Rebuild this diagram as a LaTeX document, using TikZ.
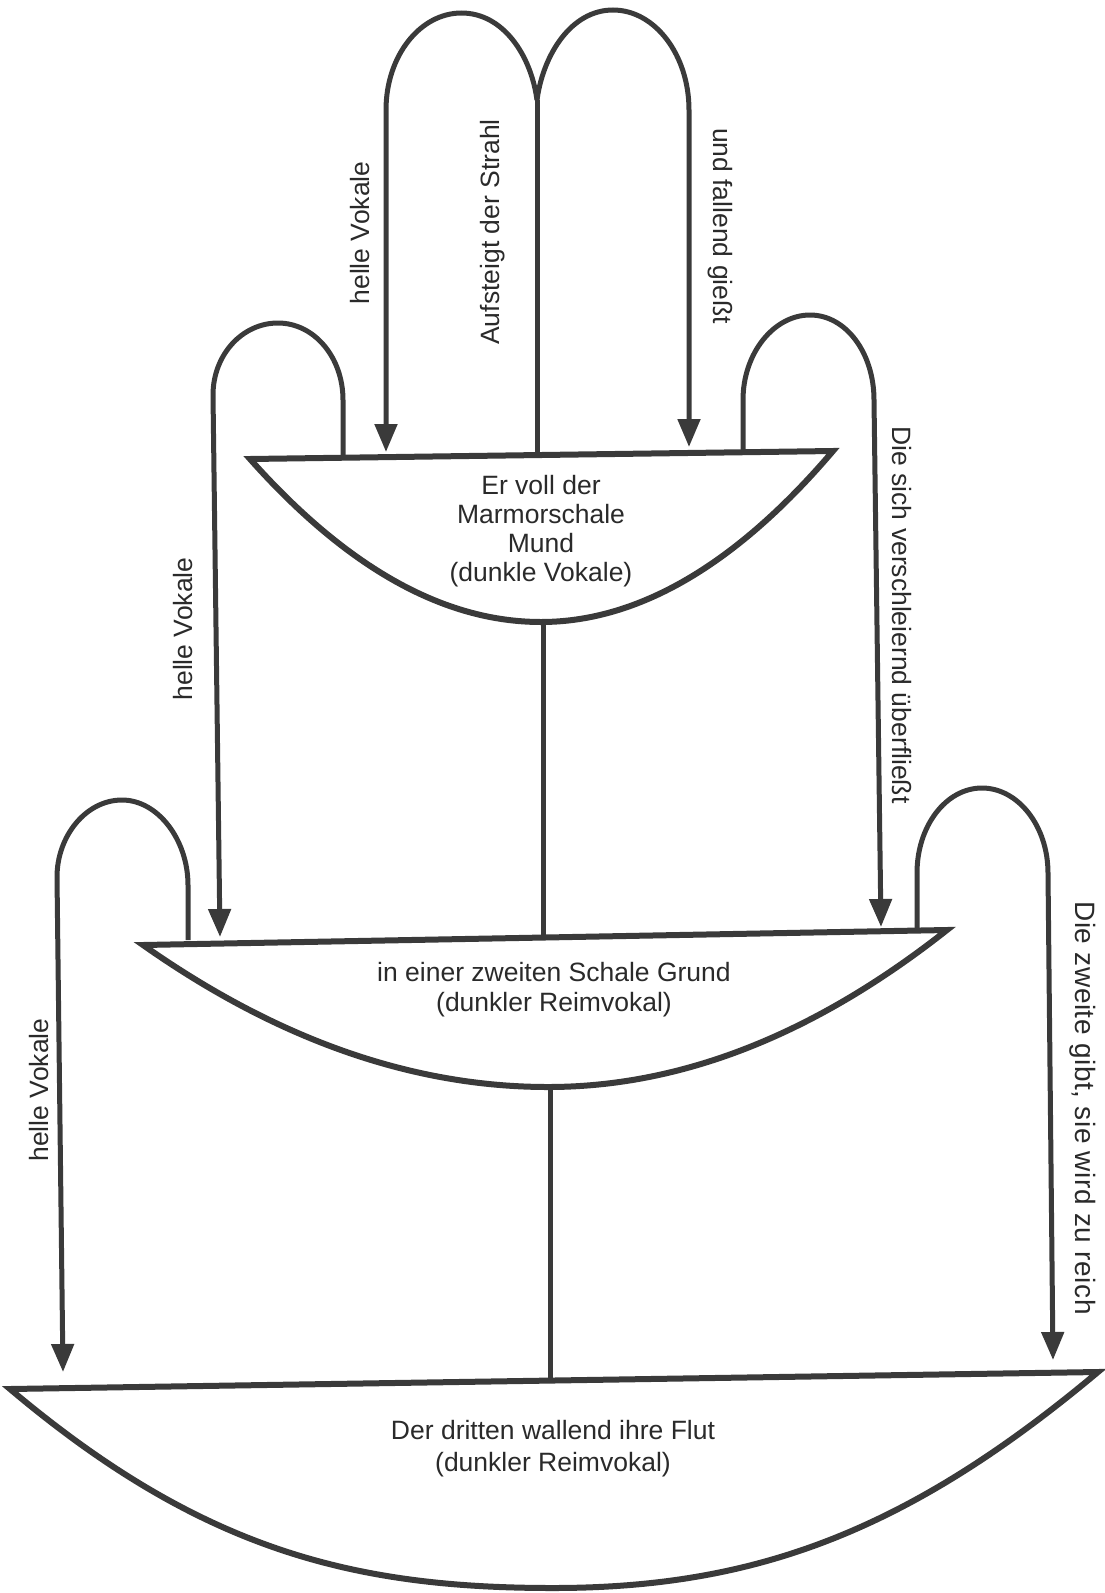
\documentclass[tikz,border=0pt]{standalone}
\usepackage{fontspec}
\setmainfont{Liberation Sans}
\usetikzlibrary{arrows.meta}
\definecolor{ink}{HTML}{3A3A3A}
\definecolor{txt}{HTML}{2A2A2A}
\begin{document}
\begin{tikzpicture}[x=1pt,y=-1pt,
  fing/.style={draw=ink,line width=5pt},
  arr/.style={fing,-{Triangle[width=22pt,length=28pt]}},
  bowl/.style={draw=ink,line width=6pt,line join=miter,fill=white},
  lbl/.style={text=txt,font=\fontsize{26.5}{30}\selectfont,inner sep=0pt},
  btxt/.style={lbl,align=center}]
\useasboundingbox (0,0) rectangle (1104,1593);
% key points
\coordinate (cusp) at (537,100);
\coordinate (aL) at (386,452);
\coordinate (aR) at (689,447);
\coordinate (m1) at (537,456);
\coordinate (cR) at (343,458);
\coordinate (cA) at (220,937);
\coordinate (dL) at (743,452);
\coordinate (dA) at (881,927);
\coordinate (eR) at (188,940);
\coordinate (eA) at (63,1372);
\coordinate (fL) at (917,931);
\coordinate (fA) at (1053,1360);
\coordinate (s1a) at (543,618);
\coordinate (s1b) at (543,938);
\coordinate (s2a) at (550,1083);
\coordinate (s2b) at (550,1381);
% top fingers
\draw[fing] (m1) -- (cusp);
\draw[arr] (cusp) .. controls (531,55) and (503,13) .. (461.5,13)
  .. controls (420,13) and (386,56) .. (386,110) -- (aL);
\draw[arr] (cusp) .. controls (543,55) and (571,10) .. (613,10)
  .. controls (655,10) and (689,55) .. (689,110) -- (aR);
% side fingers of bowl 1
\draw[arr] (cR) -- (343,400) .. controls (343,357) and (314,323) .. (278,323)
  .. controls (242,323) and (213,355) .. (213,395) -- (cA);
\draw[arr] (dL) -- (743,400) .. controls (743,353) and (774,315) .. (810,315)
  .. controls (846,315) and (874,353) .. (874,400) -- (dA);
% side fingers of bowl 2
\draw[arr] (eR) -- (188,885) .. controls (188,840) and (158,800) .. (122,800)
  .. controls (86,800) and (57,836) .. (57,877) -- (eA);
\draw[arr] (fL) -- (917,873) .. controls (917,826) and (946,788) .. (982,788)
  .. controls (1018,788) and (1048,826) .. (1048,873) -- (fA);
% stems
\draw[fing] (s1a) -- (s1b);
\draw[fing] (s2a) -- (s2b);
% bowls
\draw[bowl] (250,459) -- (833,451) .. controls (736,565) and (638,622) .. (541,622)
  .. controls (444,622) and (347,568) .. (250,459) -- cycle;
\draw[bowl] (143,945) -- (947,930) .. controls (814,1035) and (681,1087) .. (548,1087)
  .. controls (413,1087) and (278,1040) .. (143,945) -- cycle;
\draw[bowl] (10,1389) -- (1098,1372) .. controls (906,1533) and (753,1588) .. (553,1588)
  .. controls (353,1588) and (201,1550) .. (10,1389) -- cycle;
% bowl texts
\node[btxt,font=\fontsize{26.5}{29}\selectfont] (t1) at (541,531) {Er voll der\\Marmorschale\\Mund\\(dunkle Vokale)};
\node[btxt] (t2) at (554,990) {in einer zweiten Schale Grund\\(dunkler Reimvokal)};
\node[btxt,font=\fontsize{26.5}{32}\selectfont] (t3) at (553,1449) {Der dritten wallend ihre Flut\\(dunkler Reimvokal)};
% rotated labels
\node[lbl,rotate=90] (l1) at (360,233) {helle Vokale};
\node[lbl,rotate=90] (l2) at (493,232) {Aufsteigt der Strahl};
\node[lbl,rotate=-90] (l3) at (720,226) {und fallend gießt};
\node[lbl,rotate=90] (l4) at (183,629) {helle Vokale};
\node[lbl,rotate=-90] (l5) at (902,615) {Die sich verschleiernd überfließt};
\node[lbl,rotate=90] (l6) at (39,1090) {helle Vokale};
\node[lbl,rotate=-90,font=\fontsize{28}{30}\selectfont\addfontfeature{LetterSpace=2}] (l7) at (1083,1108) {Die zweite gibt, sie wird zu reich};
\end{tikzpicture}
\end{document}
